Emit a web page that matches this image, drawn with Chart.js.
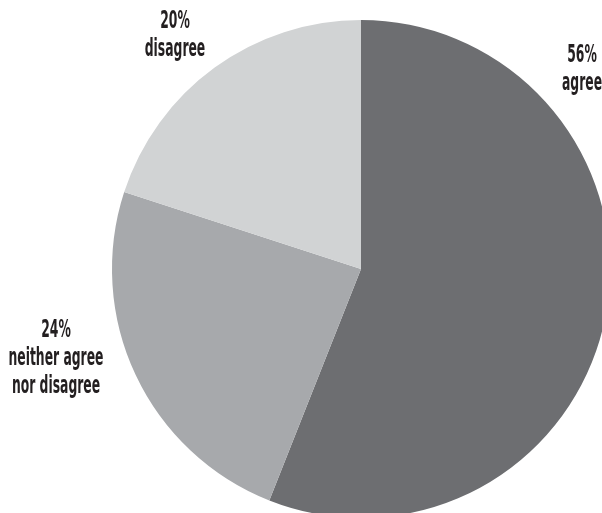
<!DOCTYPE html>
<html>
<head>
<meta charset="utf-8">
<script src="https://cdn.jsdelivr.net/npm/chart.js@4"></script>
<style>
  html, body { margin: 0; padding: 0; background: #fff; overflow: hidden; width: 602px; height: 513px; }
  #wrap { position: absolute; left: 0; top: 0; }
</style>
</head>
<body>
<div id="wrap"><canvas id="pieChart" width="720" height="540"></canvas></div>
<script>
const categories = ['agree', 'neither agree\nnor disagree', 'disagree'];
const shares = [56, 24, 20];
const colours = ['#6d6e71', '#a7a9ac', '#d1d3d4'];

// label anchors (text only): centre x, baseline of first line
const labelSpots = [
    { x: 582, y: 62 },
    { x: 56, y: 337 },
    { x: 175, y: 28 }
];

const labelPlugin = {
    id: 'sliceLabels',
    afterDraw(chart) {
        const ctx = chart.ctx;
        ctx.save();
        ctx.fillStyle = '#231f20';
        ctx.textAlign = 'center';
        ctx.textBaseline = 'alphabetic';
        ctx.font = 'bold 25px "DejaVu Sans Condensed", "DejaVu Sans", sans-serif';
        // squeeze the face to mimic the narrow headline type
        const squeeze = 95 / ctx.measureText('neither agree').width;
        categories.forEach((cat, i) => {
            const lines = [shares[i] + '%'].concat(cat.split('\n'));
            const spot = labelSpots[i];
            lines.forEach((line, j) => {
                ctx.save();
                ctx.translate(spot.x, spot.y + j * 28);
                ctx.scale(squeeze, 1);
                ctx.fillText(line, 0, 0);
                ctx.restore();
            });
        });
        ctx.restore();
    }
};

new Chart(document.getElementById('pieChart'), {
    type: 'pie',
    data: {
        labels: categories,
        datasets: [{
            data: shares,
            backgroundColor: colours,
            borderWidth: 0
        }]
    },
    options: {
        responsive: false,
        animation: false,
        layout: { padding: { left: 112, right: 110, top: 20, bottom: 22 } },
        plugins: {
            legend: { display: false },
            tooltip: { enabled: false }
        }
    },
    plugins: [labelPlugin]
});
</script>
</body>
</html>
